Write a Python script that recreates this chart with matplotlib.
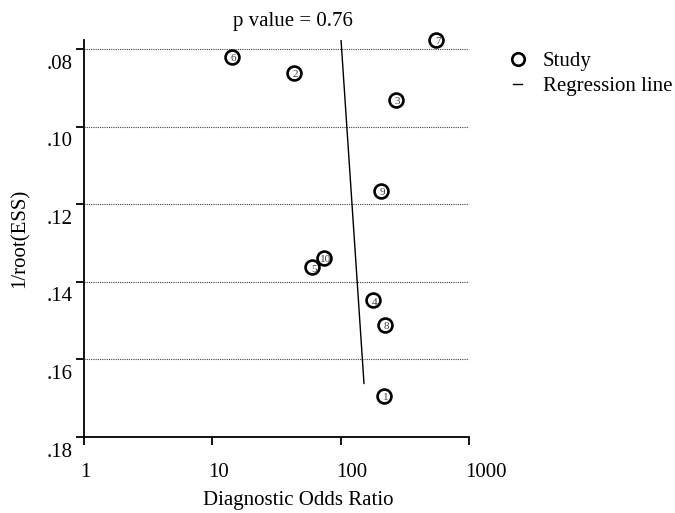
import numpy as np
import matplotlib
matplotlib.use('Agg')
import matplotlib.pyplot as plt
import matplotlib.transforms as mtrans
from matplotlib.lines import Line2D

plt.rcParams['font.family'] = ['Liberation Serif', 'DejaVu Serif']

# study estimates
study_id = ['1', '2', '3', '4', '5', '6', '7', '8', '9', '10']
dor = [218, 43.3, 270, 179, 59.8, 14.2, 554, 222, 206, 74.3]
inv_root_ess = [0.1695, 0.0862, 0.0932, 0.1448, 0.1363, 0.0821, 0.0776, 0.1510, 0.1166, 0.1339]

# regression line end points
reg_x = [100.7, 152]
reg_y = [0.0777, 0.1662]

y_ticks = [0.08, 0.10, 0.12, 0.14, 0.16, 0.18]
y_labels = ['.08', '.10', '.12', '.14', '.16', '.18']
x_ticks = [1, 10, 100, 1000]
x_labels = ['1', '10', '100', '1000']
p_text = 'p value = 0.76'

fig = plt.figure(figsize=(6.75, 5.13), dpi=100)
ax = fig.add_axes([0.1244, 0.1481, 0.5704, 0.7739])

ax.set_xscale('log')
ax.set_xlim(1, 1000)
ax.set_ylim(0.18, 0.07768)

# dotted reference lines
for yv in y_ticks[:-1]:
    ax.plot([1, 1000], [yv, yv], color='0.25', lw=0.8, ls=(0, (1, 1)), zorder=1)

ax.plot(reg_x, reg_y, color='black', lw=1.0, zorder=2)

ax.plot(dor, inv_root_ess, 'o', ms=10, mfc='white', mec='black', mew=1.9,
        zorder=3, clip_on=False)
for sid, xv, yv in zip(study_id, dor, inv_root_ess):
    ax.annotate(sid, (xv, yv), xytext=(1.2, -1.2), textcoords='offset points',
                ha='center', va='center', fontsize=8, color='0.25', zorder=4)

ax.spines['top'].set_visible(False)
ax.spines['right'].set_visible(False)
ax.spines['left'].set_linewidth(1.3)
ax.spines['bottom'].set_linewidth(1.3)

ax.set_xticks(x_ticks)
ax.set_xticklabels(x_labels)
ax.xaxis.set_minor_locator(matplotlib.ticker.NullLocator())
ax.set_yticks(y_ticks)
ax.set_yticklabels(y_labels)
ax.tick_params(axis='both', direction='out', length=6, width=1.3, labelsize=15)
ax.tick_params(axis='x', pad=13)
ax.tick_params(axis='y', pad=2)

# y labels sit below their tick, x labels shifted right of the tick
dy = mtrans.ScaledTranslation(0, -4 / 72, fig.dpi_scale_trans)
for lbl in ax.get_yticklabels():
    lbl.set_va('top')
    lbl.set_transform(lbl.get_transform() + dy)
dx = mtrans.ScaledTranslation(-3 / 72, 0, fig.dpi_scale_trans)
for lbl in ax.get_xticklabels():
    lbl.set_ha('left')
    lbl.set_transform(lbl.get_transform() + dx)

fig.text(0.442, 0.005, 'Diagnostic Odds Ratio', ha='center', va='bottom', fontsize=15)
fig.text(0.03, 0.535, '1/root(ESS)', rotation=90, ha='center', va='center', fontsize=15)
fig.text(0.434, 0.958, p_text, ha='center', va='center', fontsize=15)

handles = [Line2D([], [], marker='o', ls='none', ms=9, mfc='white', mec='black', mew=1.9),
           Line2D([], [], color='black', lw=1.0)]
fig.legend(handles, ['Study', 'Regression line'], loc='upper left',
           bbox_to_anchor=(0.732, 0.936), frameon=False, fontsize=15,
           handlelength=0.45, handletextpad=1.0, labelspacing=0.25)

fig.savefig('out.png', dpi=100)
